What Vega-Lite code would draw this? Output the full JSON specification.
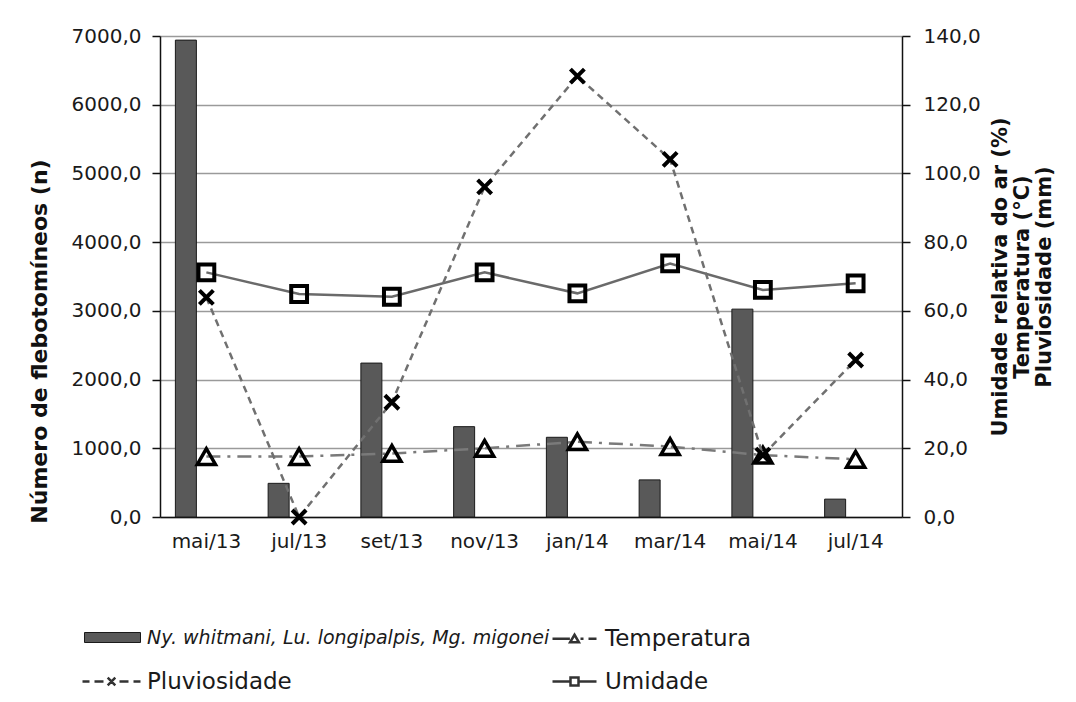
{
  "$schema": "https://vega.github.io/schema/vega-lite/v6.json",
  "width": 742,
  "height": 481,
  "autosize": {"type": "none"},
  "padding": {"left": 160, "top": 36, "right": 174, "bottom": 185},
  "background": "white",
  "config": {
    "font": "DejaVu Sans",
    "view": {"stroke": null},
    "axis": {"labelColor": "#1a1a1a", "titleColor": "#111", "domainColor": "#111", "tickColor": "#111", "domainWidth": 1.5, "tickWidth": 1.5}
  },
  "data": {
    "values": [
      {"mes": "mai/13", "n": 6940, "Temperatura": 17.6, "Pluviosidade": 63.9, "Umidade": 71.2},
      {"mes": "jul/13", "n": 490, "Temperatura": 17.6, "Pluviosidade": 0.0, "Umidade": 64.9},
      {"mes": "set/13", "n": 2240, "Temperatura": 18.5, "Pluviosidade": 33.4, "Umidade": 64.1},
      {"mes": "nov/13", "n": 1315, "Temperatura": 20.0, "Pluviosidade": 96.1, "Umidade": 71.2},
      {"mes": "jan/14", "n": 1160, "Temperatura": 21.9, "Pluviosidade": 128.3, "Umidade": 65.1},
      {"mes": "mar/14", "n": 540, "Temperatura": 20.5, "Pluviosidade": 104.1, "Umidade": 73.8},
      {"mes": "mai/14", "n": 3025, "Temperatura": 18.0, "Pluviosidade": 18.0, "Umidade": 66.1},
      {"mes": "jul/14", "n": 260, "Temperatura": 16.8, "Pluviosidade": 45.7, "Umidade": 68.0}
    ]
  },
  "encoding": {
    "x": {
      "field": "mes", "type": "ordinal", "sort": null,
      "scale": {"paddingInner": 0, "paddingOuter": 0},
      "axis": {"title": null, "labelAngle": 0, "ticks": false, "labelFontSize": 20, "labelPadding": 14, "domainColor": "#111"}
    }
  },
  "layer": [
    {
      "mark": {"type": "bar", "width": 21, "xOffset": -20.5, "fill": "#595959", "stroke": "#1a1a1a", "strokeWidth": 1},
      "encoding": {
        "y": {
          "field": "n", "type": "quantitative",
          "scale": {"domain": [0, 7000], "nice": false},
          "axis": {
            "orient": "left", "title": "Número de flebotomíneos (n)",
            "values": [0, 1000, 2000, 3000, 4000, 5000, 6000, 7000],
            "labelExpr": "replace(format(datum.value, '.1f'), '.', ',')",
            "labelFontSize": 20, "labelPadding": 11, "tickSize": 8,
            "grid": true, "gridColor": "#9a9a9a", "gridWidth": 1.5,
            "titleFontSize": 22, "titleFontWeight": "bold", "titlePadding": 20, "titleY": 305
          }
        },
        "fill": {
          "datum": "Ny. whitmani, Lu. longipalpis, Mg. migonei", "type": "nominal",
          "scale": {"range": ["#595959"]},
          "legend": {
            "orient": "none", "legendX": -68, "legendY": 581,
            "title": null, "symbolSize": 1600, "symbolType": "M-1.4,-0.25H1.4V0.25H-1.4Z",
            "symbolStrokeColor": "#1a1a1a", "symbolStrokeWidth": 1,
            "labelFontSize": 19, "labelFontStyle": "italic", "labelLimit": 0, "labelOffset": 14,
            "labelColor": "#1a1a1a"
          }
        }
      }
    },
    {
      "transform": [{"fold": ["Temperatura", "Pluviosidade", "Umidade"], "as": ["serie", "valor"]}],
      "encoding": {
        "y": {
          "field": "valor", "type": "quantitative",
          "scale": {"domain": [0, 140], "nice": false},
          "axis": {
            "orient": "right",
            "title": ["Umidade relativa do ar (%)", "Temperatura (°C)", "Pluviosidade (mm)"],
            "values": [0, 20, 40, 60, 80, 100, 120, 140],
            "labelExpr": "replace(format(datum.value, '.1f'), '.', ',')",
            "labelFontSize": 20, "labelPadding": 13, "tickSize": 8, "grid": false,
            "titleFontSize": 21, "titleFontWeight": "bold", "titleAngle": 270, "titleLineHeight": 22, "titlePadding": -14
          }
        }
      },
      "layer": [
        {
          "transform": [{"filter": "datum.serie === 'Temperatura'"}],
          "mark": {"type": "line", "color": "#7a7a7a", "strokeWidth": 2.5, "strokeDash": [14, 7, 3, 7],
            "point": {"shape": "triangle-up", "size": 330, "filled": false, "fill": null, "stroke": "#000", "strokeWidth": 3.5}}
        },
        {
          "transform": [{"filter": "datum.serie === 'Umidade'"}],
          "mark": {"type": "line", "color": "#6a6a6a", "strokeWidth": 2.5,
            "point": {"shape": "square", "size": 250, "filled": false, "fill": null, "stroke": "#000", "strokeWidth": 4}}
        },
        {
          "transform": [{"filter": "datum.serie === 'Pluviosidade'"}],
          "mark": {"type": "line", "color": "#707070", "strokeWidth": 2.5, "strokeDash": [7, 5],
            "point": {"shape": "M-1,-1L1,1M-1,1L1,-1", "size": 196, "filled": false, "fill": null, "stroke": "#000", "strokeWidth": 4}}
        },
        {
          "transform": [{"filter": "datum.serie === '_'"}],
          "mark": {"type": "point", "filled": false, "color": "#333333", "strokeWidth": 2.5},
          "encoding": {
            "shape": {
              "field": "serie", "type": "nominal",
              "scale": {
                "domain": ["_", "Temperatura", "Pluviosidade", "Umidade"],
                "range": [
                  "M0,-0.8M0,0.8",
                  "M0.25,-0.8M0.25,0.8M-0.85,0H0.02M0.55,0H0.7M0.95,0H1.35M0.25,-0.2L0.47,0.18H0.03Z",
                  "M0,-0.8M0,0.8M-1.45,0H-1.1M-0.85,0H-0.4M0.4,0H0.85M1.1,0H1.45M-0.19,-0.19L0.19,0.19M-0.19,0.19L0.19,-0.19",
                  "M0.25,-0.8M0.25,0.8M-0.85,0H0.05M0.45,0H1.35M0.05,-0.2H0.45V0.2H0.05Z"
                ]
              },
              "legend": {
                "orient": "none", "legendX": -70, "legendY": 581,
                "title": null, "columns": 2, "direction": "horizontal",
                "symbolSize": 1600, "symbolStrokeColor": "#333333", "symbolStrokeWidth": 2.5, "symbolOpacity": 1,
                "labelExpr": "datum.value === '_' ? '' : datum.label",
                "labelFontSize": 23, "labelLimit": 0, "labelOffset": 14, "labelColor": "#1a1a1a",
                "rowPadding": 0, "columnPadding": 255
              }
            }
          }
        }
      ]
    }
  ],
  "resolve": {"scale": {"y": "independent"}}
}
